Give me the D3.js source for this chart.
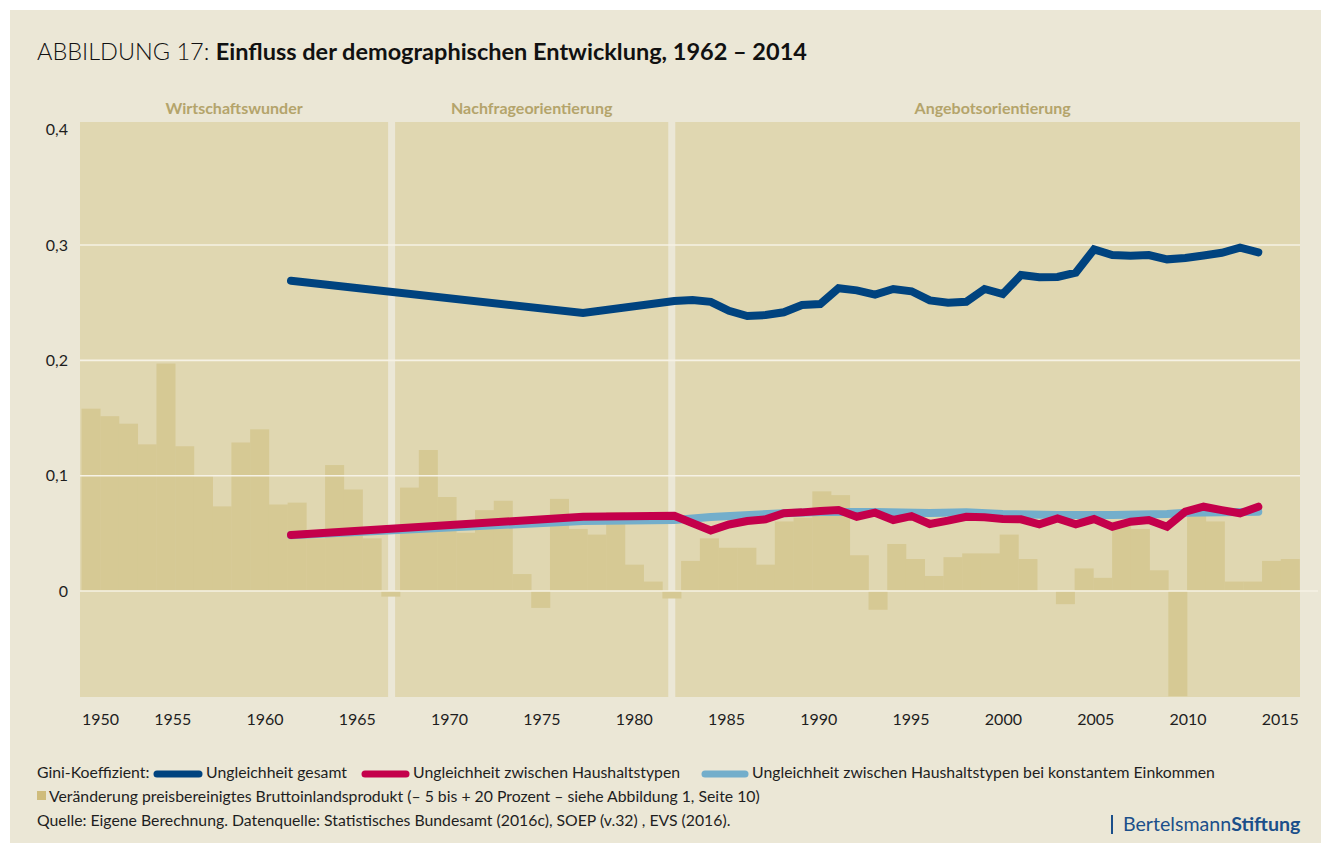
<!DOCTYPE html>
<html lang="de">
<head>
<meta charset="utf-8">
<script src="https://cdn.jsdelivr.net/npm/d3@7"></script>
<style>
  html, body { margin: 0; padding: 0; background: #ffffff; }
  svg { display: block; font-family: Lato, "Open Sans", sans-serif; }
</style>
</head>
<body>
<svg id="chart" width="1331" height="853"></svg>
<script>
// Abbildung 17 – Gini-Koeffizient und BIP-Veränderung, Deutschland

const periodNames = ["Wirtschaftswunder", "Nachfrageorientierung", "Angebotsorientierung"];
const periodBreaks = [1966.55, 1981.5];

// BIP-Veränderung in Prozent, 1951–2015
const gdpYears = d3.range(1951, 2016);
const gdpGrowth = [
  9.7, 9.3, 8.9, 7.8, 12.1, 7.7, 6.1, 4.5, 7.9, 8.6,
  4.6, 4.7, 2.8, 6.7, 5.4, 2.8, -0.3, 5.5, 7.5, 5.0,
  3.1, 4.3, 4.8, 0.9, -0.9, 4.9, 3.3, 3.0, 4.2, 1.4,
  0.5, -0.4, 1.6, 2.8, 2.3, 2.3, 1.4, 3.7, 3.9, 5.3,
  5.1, 1.9, -1.0, 2.5, 1.7, 0.8, 1.8, 2.0, 2.0, 3.0,
  1.7, 0.0, -0.7, 1.2, 0.7, 3.7, 3.3, 1.1, -5.6, 4.1,
  3.7, 0.5, 0.5, 1.6, 1.7
];

// Gini: Ungleichheit gesamt
const totalYears = [1961, 1977, 1982, 1983, 1984, 1985, 1986, 1987, 1988, 1989, 1990,
  1991, 1992, 1993, 1994, 1995, 1996, 1997, 1998, 1999, 2000,
  2001, 2002, 2003, 2004, 2005, 2006, 2007, 2008, 2009, 2010,
  2011, 2012, 2013, 2014];
const totalGini = [0.269, 0.241, 0.2515, 0.2523, 0.2508, 0.243, 0.2384, 0.2393, 0.2417, 0.248, 0.2488,
  0.2625, 0.2607, 0.257, 0.2619, 0.2599, 0.252, 0.250, 0.2508, 0.2619, 0.2575,
  0.274, 0.272, 0.2723, 0.276, 0.2963, 0.2913, 0.2907, 0.2913, 0.2876, 0.2887,
  0.291, 0.2933, 0.2977, 0.2937];

// Gini: Ungleichheit zwischen Haushaltstypen
const hhYears = [1961, 1977, 1982, 1984, 1985, 1986, 1987, 1988, 1989, 1990,
  1991, 1992, 1993, 1994, 1995, 1996, 1997, 1998, 1999, 2000,
  2001, 2002, 2003, 2004, 2005, 2006, 2007, 2008, 2009, 2010,
  2011, 2012, 2013, 2014];
const hhGini = [0.0486, 0.0644, 0.0653, 0.0525, 0.0577, 0.0607, 0.0622, 0.0674, 0.0682, 0.0694,
  0.0702, 0.0644, 0.0679, 0.0616, 0.065, 0.0581, 0.061, 0.0644, 0.0639, 0.0624,
  0.0622, 0.0578, 0.063, 0.0578, 0.0624, 0.0558, 0.0601, 0.0616, 0.0558, 0.0688,
  0.0731, 0.0702, 0.0674, 0.0731];

// Gini: zwischen Haushaltstypen bei konstantem Einkommen
const constYears = [1961, 1977, 1982, 1984, 1988, 1990, 1993, 1996, 1998, 2000, 2003, 2006, 2009, 2010, 2014];
const constGini = [0.0483, 0.0607, 0.0615, 0.0642, 0.0675, 0.0685, 0.0685, 0.0676, 0.0684, 0.0668,
  0.0659, 0.0659, 0.0668, 0.0679, 0.0688];

const yTicks = [0, 0.1, 0.2, 0.3, 0.4];
const xTicks = d3.range(1950, 2016, 5);

const colors = {
  page: "#ebe7d6",
  plot: "#e0d7b1",
  bar: "#d6c994",
  grid: "#f6f2e5",
  period: "#b4a46b",
  total: "#00437f",
  hh: "#c4004b",
  constant: "#73aecb",
  text: "#1e1e1e",
  logo: "#1b4f8a"
};

const width = 1331, height = 853;
const plot = { left: 80, right: 1300, top: 122, bottom: 697 };

const svg = d3.select("#chart");

svg.append("rect")
  .attr("x", 10).attr("y", 10)
  .attr("width", width - 20).attr("height", height - 20)
  .attr("fill", colors.page);

// scales
const y = d3.scaleLinear().domain([-0.0919, 0.4067]).range([plot.bottom, plot.top]);
const yBar = d3.scaleLinear().domain([-5.64, 24.95]).range([plot.bottom, plot.top]);
const xTime = d3.scaleLinear().domain([1950, 2015]).range([81.5, 1299.5]);
const xLine = d3.scaleLinear().domain([1961, 2014]).range([291, 1258.3]);
const xLabel = d3.scaleLinear().domain([1955, 2010]).range([172.7, 1188]);

// title
const title = svg.append("text")
  .attr("x", 37).attr("y", 60)
  .attr("font-size", 23.5)
  .attr("fill", "#111");
title.append("tspan").attr("font-weight", 300).text("ABBILDUNG 17: ");
title.append("tspan").attr("font-weight", 700).text("Einfluss der demographischen Entwicklung, 1962 – 2014");

// period panels
const edges = [plot.left, ...periodBreaks.map(xTime), plot.right];
const gap = 7;
const panels = periodNames.map((name, i) => ({
  name,
  x0: i === 0 ? edges[0] : edges[i] + gap / 2,
  x1: i === periodNames.length - 1 ? edges[i + 1] : edges[i + 1] - gap / 2
}));

svg.append("g")
  .selectAll("rect")
  .data(panels)
  .join("rect")
  .attr("x", d => d.x0)
  .attr("y", plot.top)
  .attr("width", d => d.x1 - d.x0)
  .attr("height", plot.bottom - plot.top)
  .attr("fill", colors.plot);

svg.append("g")
  .selectAll("text")
  .data(panels)
  .join("text")
  .attr("x", d => (d.x0 + d.x1) / 2 + (d.x1 - d.x0 > 500 ? 5 : 0))
  .attr("y", 114)
  .attr("text-anchor", "middle")
  .attr("font-size", 16)
  .attr("font-weight", 700)
  .attr("fill", colors.period)
  .text(d => d.name);

// GDP bars
svg.append("g")
  .selectAll("rect")
  .data(gdpYears.map((yr, i) => ({ yr, v: gdpGrowth[i] })))
  .join("rect")
  .attr("x", d => xTime(d.yr - 1))
  .attr("width", d => xTime(d.yr) - xTime(d.yr - 1) + 0.3)
  .attr("y", d => yBar(Math.max(0, d.v)))
  .attr("height", d => Math.abs(yBar(d.v) - yBar(0)))
  .attr("fill", colors.bar);

// gridlines
svg.append("g")
  .selectAll("line")
  .data(yTicks.filter(t => t < 0.4))
  .join("line")
  .attr("x1", plot.left)
  .attr("x2", d => d === 0 ? plot.right + 18 : plot.right)
  .attr("y1", d => y(d))
  .attr("y2", d => y(d))
  .attr("stroke", colors.grid)
  .attr("stroke-width", 1.6);

// y axis labels
const fmt = d => d === 0 ? "0" : d3.format(".1f")(d).replace(".", ",");
svg.append("g")
  .selectAll("text")
  .data(yTicks)
  .join("text")
  .attr("x", 68)
  .attr("y", d => y(d))
  .attr("dy", "0.36em")
  .attr("text-anchor", "end")
  .attr("font-size", 16)
  .attr("fill", colors.text)
  .text(fmt);

// x axis labels
const xl = svg.append("g")
  .selectAll("text")
  .data(xTicks)
  .join("text")
  .attr("y", 725)
  .attr("text-anchor", "middle")
  .attr("font-size", 16)
  .attr("fill", colors.text)
  .text(d => d);
xl.attr("x", function (d) {
  const half = this.getComputedTextLength() / 2;
  return Math.max(xLabel(d), plot.left + half + 2);
});

// lines
const line = d3.line().x(d => xLine(d[0])).y(d => y(d[1]));
const series = [
  { years: constYears, vals: constGini, color: colors.constant },
  { years: hhYears, vals: hhGini, color: colors.hh },
  { years: totalYears, vals: totalGini, color: colors.total }
];
svg.append("g")
  .selectAll("path")
  .data(series)
  .join("path")
  .attr("d", s => line(s.years.map((yr, i) => [yr, s.vals[i]])))
  .attr("fill", "none")
  .attr("stroke", s => s.color)
  .attr("stroke-width", 8)
  .attr("stroke-linecap", "round")
  .attr("stroke-linejoin", "miter");

// legend
const legend = svg.append("g").attr("font-size", 15.8).attr("fill", colors.text);
legend.append("text").attr("x", 37).attr("y", 778).text("Gini-Koeffizient:");
const legendItems = [
  { x1: 157, x2: 199, tx: 206, color: colors.total, label: "Ungleichheit gesamt" },
  { x1: 365, x2: 406, tx: 413, color: colors.hh, label: "Ungleichheit zwischen Haushaltstypen" },
  { x1: 705, x2: 745, tx: 752, color: colors.constant, label: "Ungleichheit zwischen Haushaltstypen bei konstantem Einkommen" }
];
legendItems.forEach(item => {
  legend.append("line")
    .attr("x1", item.x1).attr("x2", item.x2)
    .attr("y1", 774).attr("y2", 774)
    .attr("stroke", item.color)
    .attr("stroke-width", 7)
    .attr("stroke-linecap", "round");
  legend.append("text").attr("x", item.tx).attr("y", 778).text(item.label);
});
legend.append("rect")
  .attr("x", 37).attr("y", 791)
  .attr("width", 9).attr("height", 9)
  .attr("fill", "#cfbc7c");
legend.append("text").attr("x", 49).attr("y", 802)
  .text("Veränderung preisbereinigtes Bruttoinlandsprodukt (– 5 bis + 20 Prozent – siehe Abbildung 1, Seite 10)");
legend.append("text").attr("x", 37).attr("y", 826)
  .text("Quelle: Eigene Berechnung. Datenquelle: Statistisches Bundesamt (2016c), SOEP (v.32) , EVS (2016).");

// logo
svg.append("line")
  .attr("x1", 1112).attr("x2", 1112)
  .attr("y1", 815).attr("y2", 834)
  .attr("stroke", colors.logo)
  .attr("stroke-width", 2);
const logo = svg.append("text")
  .attr("x", 1123).attr("y", 831)
  .attr("font-size", 19.6)
  .attr("fill", colors.logo);
logo.append("tspan").text("Bertelsmann");
logo.append("tspan").attr("font-weight", 700).text("Stiftung");
</script>
</body>
</html>
